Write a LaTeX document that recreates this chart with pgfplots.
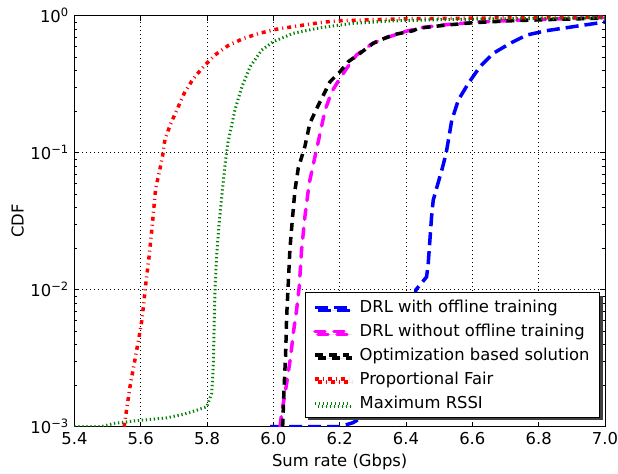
\documentclass[border=0pt]{standalone}
\usepackage{fontspec}
\setmainfont{DejaVu Sans}
\usepackage{pgfplots}
\pgfplotsset{compat=1.18}
\usetikzlibrary{shadows}
\definecolor{mblue}{rgb}{0,0,1}
\definecolor{mmag}{rgb}{1,0,1}
\definecolor{mred}{rgb}{1,0,0}
\definecolor{mgreen}{rgb}{0,0.5,0}
\begin{document}
\fontsize{16.4bp}{19.7bp}\selectfont
\begin{tikzpicture}
\begin{axis}[
  scale only axis, width=530.6bp, height=411bp,
  xmin=5.4, xmax=7.0, ymin=1e-3, ymax=1,
  ymode=log,
  xtick={5.4,5.6,5.8,6.0,6.2,6.4,6.6,6.8,7.0},
  xticklabel style={/pgf/number format/.cd, fixed, fixed zerofill, precision=1, assume math mode=true},
  ytick={1e-3,1e-2,1e-1,1},
  yticklabels={{10\textsuperscript{−3}},{10\textsuperscript{−2}},{10\textsuperscript{−1}},{10\textsuperscript{0}}},
  grid=major,
  major grid style={black, line width=0.8bp, dash pattern=on 1bp off 3bp},
  axis line style={line width=1bp},
  major tick length=5bp, minor tick length=3bp,
  tick style={black, line width=0.8bp},
  xlabel={Sum rate (Gbps)}, ylabel={CDF},
  x label style={at={(axis description cs:0.5,-0.085)}, anchor=center},
  y label style={at={(axis description cs:-0.107,0.5)}, anchor=center},
  legend cell align=left,
  legend style={at={(0.9906,0.0212)}, anchor=south east, draw=black, line width=1bp, fill=white,
    drop shadow={shadow xshift=3bp, shadow yshift=-3bp, fill=black!75, opacity=1},
    inner xsep=8bp, inner ysep=5bp, row sep=5bp, font=\fontsize{16.4bp}{19.7bp}\selectfont,
    /tikz/every odd column/.append style={column sep=7bp}},
  legend image code/.code={\draw[#1] (0bp,0bp) -- (34bp,0bp);},
]
\addplot[mblue, line width=3.5bp, dash pattern=on 13bp off 6bp] coordinates {
(5.99,1e-3)(6.2,1e-3)(6.24,1.07e-3)(6.3,1.3e-3)(6.38,3e-3)(6.42,7e-3)(6.43,0.01)
(6.462,0.0124)(6.467,0.0156)(6.472,0.023)(6.477,0.034)(6.482,0.045)(6.493,0.056)(6.508,0.0748)(6.521,0.099)
(6.538,0.173)(6.558,0.243)(6.588,0.321)(6.623,0.425)(6.663,0.531)(6.714,0.629)(6.764,0.723)(6.824,0.778)(6.905,0.832)(6.985,0.889)(7.0,0.9)
};
\addlegendentry{DRL with offline training}
\addplot[mmag, line width=3.5bp, line cap=round, dash pattern=on 10bp off 9bp] coordinates {
(6.02,1e-3)(6.025,1.25e-3)(6.04,2.07e-3)(6.052,3.24e-3)(6.06,4.8e-3)(6.07,7.1e-3)(6.078,0.0105)(6.085,0.0195)(6.095,0.034)(6.108,0.0598)(6.126,0.095)
(6.141,0.139)(6.156,0.205)(6.176,0.279)(6.201,0.349)(6.221,0.413)(6.251,0.517)(6.3,0.63)(6.34,0.69)(6.4,0.77)(6.45,0.82)(6.52,0.86)(6.62,0.9)(6.75,0.93)(7.0,0.97)
};
\addlegendentry{DRL without offline training}
\addplot[black, line width=3.5bp, dash pattern=on 8bp off 6bp] coordinates {
(6.028,1e-3)(6.032,1.85e-3)(6.037,3.4e-3)(6.040,6.35e-3)(6.044,0.01)(6.05,0.02)(6.057,0.032)(6.065,0.053)(6.075,0.077)(6.095,0.111)
(6.110,0.164)(6.131,0.211)(6.151,0.264)(6.171,0.33)(6.201,0.39)(6.226,0.462)(6.261,0.531)(6.301,0.629)(6.342,0.695)(6.372,0.735)(6.422,0.778)
(6.437,0.81)(6.523,0.855)(6.603,0.889)(6.724,0.92)(6.85,0.94)(7.0,0.96)
};
\addlegendentry{Optimization based solution}
\addplot[mred, line width=3.5bp, dash pattern=on 4bp off 4bp on 1bp off 4bp] coordinates {
(5.55,1.0e-3)(5.553,1.13e-3)(5.568,1.98e-3)(5.586,3.43e-3)(5.595,4.5e-3)(5.603,5.9e-3)(5.609,7.9e-3)(5.614,0.0104)(5.626,0.0181)(5.636,0.0317)(5.645,0.055)(5.656,0.072)(5.666,0.095)(5.673,0.125)(5.690,0.162)(5.710,0.208)(5.731,0.271)(5.757,0.343)(5.789,0.424)(5.824,0.517)(5.866,0.611)(5.911,0.684)(5.958,0.744)(6.008,0.796)(6.105,0.865)(6.156,0.9)(6.206,0.92)(6.3,0.935)(6.4,0.95)(6.6,0.96)(6.8,0.97)(7.0,0.975)
};
\addlegendentry{Proportional Fair}
\addplot[mgreen, line width=3bp, dash pattern=on 1.3bp off 2.7bp] coordinates {
(5.4,1.0e-3)(5.48,1.0e-3)(5.522,1.06e-3)(5.578,1.1e-3)(5.678,1.16e-3)(5.728,1.23e-3)(5.769,1.32e-3)(5.799,1.4e-3)(5.814,1.75e-3)(5.819,2.9e-3)(5.821,5.1e-3)(5.824,0.01)(5.829,0.018)(5.837,0.0317)(5.847,0.0555)(5.856,0.0885)(5.863,0.118)(5.869,0.139)(5.884,0.205)(5.905,0.303)(5.930,0.425)(5.965,0.562)(6.0,0.646)(6.06,0.744)(6.141,0.817)(6.241,0.88)(6.35,0.915)(6.5,0.935)(6.7,0.95)(7.0,0.965)
};
\addlegendentry{Maximum RSSI}
\end{axis}
\pgfresetboundingbox
\path[use as bounding box] ([shift={(-74.4bp,-47.3bp)}]current axis.south west) rectangle ([shift={(13bp,15.7bp)}]current axis.north east);
\end{tikzpicture}
\end{document}
